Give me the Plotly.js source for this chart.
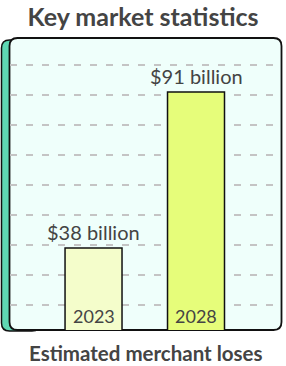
<!DOCTYPE html>
<html>
<head>
<meta charset="utf-8">
<script src="https://cdn.plot.ly/plotly-3.0.1.min.js"></script>
<style>
  html, body { margin: 0; padding: 0; background: #ffffff; }
  #chart { width: 286px; height: 366px; }
</style>
</head>
<body>
<div id="chart"></div>
<script>
// ---- data ----
const years = ['2023', '2028'];
const lossBillions = [38, 91];
const valueLabels = ['$38 billion', '$91 billion'];
const barColors = ['#f4fdcb', '#e6fd7a'];
const chartTitle = 'Key market statistics';
const xTitle = 'Estimated merchant loses';

// ---- layout helpers ----
const W = 286, H = 366;
const M = { l: 10, r: 4, t: 38, b: 36 };
const PW = W - M.l - M.r, PH = H - M.t - M.b;
const px = x => (x - M.l) / PW;
const py = y => (H - M.b - y) / PH;
function roundRect(x0, y0, x1, y1, r) {
  const p = [
    ['M', x0 + r, y0], ['L', x1 - r, y0], ['Q', x1, y0, x1, y0 + r],
    ['L', x1, y1 - r], ['Q', x1, y1, x1 - r, y1], ['L', x0 + r, y1],
    ['Q', x0, y1, x0, y1 - r], ['L', x0, y0 + r], ['Q', x0, y0, x0 + r, y0]
  ];
  return p.map(s => {
    const c = s[0]; const nums = s.slice(1);
    const out = [];
    for (let i = 0; i < nums.length; i += 2) out.push(px(nums[i]).toFixed(5) + ',' + py(nums[i + 1]).toFixed(5));
    return c + out.join(' ');
  }).join(' ') + ' Z';
}

const textColor = '#444444';
const font = 'Lato, "Open Sans", sans-serif';

const trace = {
  type: 'bar',
  x: years,
  y: lossBillions,
  width: 0.556,
  marker: { color: barColors, line: { color: '#111111', width: 1.5 } },
  hoverinfo: 'skip'
};

const annotations = [];
years.forEach((yr, i) => {
  annotations.push({
    x: i, y: lossBillions[i], xref: 'x', yref: 'y',
    text: valueLabels[i], showarrow: false, yanchor: 'bottom', yshift: 2,
    font: { family: font, size: 20, color: textColor }
  });
  annotations.push({
    x: i, y: 0, xref: 'x', yref: 'paper',
    text: yr, showarrow: false, yanchor: 'bottom', yshift: 1,
    font: { family: font, size: 18, color: textColor }
  });
});
annotations.push({
  x: 0.5, xref: 'paper', y: py(353), yref: 'paper', yanchor: 'middle',
  text: '<b>' + xTitle + '</b>', showarrow: false,
  font: { family: font, size: 20.5, color: textColor }
});

const layout = {
  width: W, height: H,
  margin: M,
  paper_bgcolor: '#ffffff',
  plot_bgcolor: 'rgba(0,0,0,0)',
  showlegend: false,
  title: {
    text: '<b>' + chartTitle + '</b>',
    x: 0.5, xref: 'container', xanchor: 'center',
    y: 1 - 17 / H, yref: 'container', yanchor: 'middle',
    font: { family: font, size: 25, color: textColor }
  },
  xaxis: {
    type: 'category',
    range: [-0.815, 1.839],
    showticklabels: false, showgrid: false, zeroline: false, showline: false, ticks: ''
  },
  yaxis: {
    range: [10.13, 109.35],
    tick0: 90, dtick: 10.19,
    showticklabels: false, ticks: '',
    showgrid: true, gridcolor: '#c4c4c4', gridwidth: 1.3, griddash: '7px,9px',
    zeroline: false, showline: false
  },
  shapes: [
    { type: 'path', xref: 'paper', yref: 'paper', layer: 'below',
      path: roundRect(1.5, 40, 40, 331, 8),
      fillcolor: '#5fd8b4', line: { color: '#111111', width: 1.5 } },
    { type: 'path', xref: 'paper', yref: 'paper', layer: 'below',
      path: roundRect(9.5, 38, 281.5, 330, 8),
      fillcolor: '#effffb', line: { color: '#111111', width: 1.8 } }
  ],
  annotations: annotations
};

Plotly.newPlot('chart', [trace], layout, { displayModeBar: false, staticPlot: true });
</script>
</body>
</html>
